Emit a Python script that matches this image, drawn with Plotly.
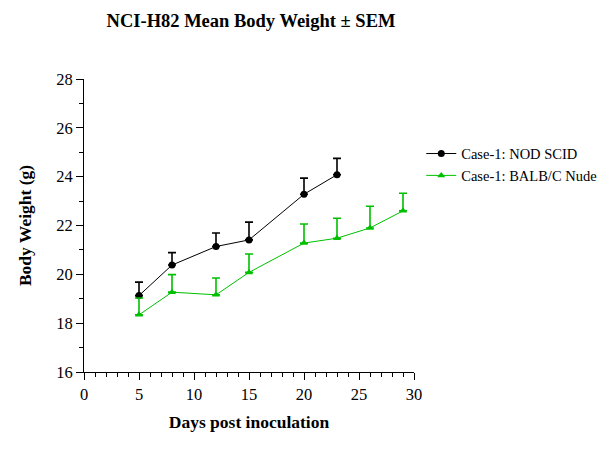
import plotly.graph_objects as go

days_nod = [5, 8, 12, 15, 20, 23]
mean_nod = [19.13, 20.38, 21.14, 21.41, 23.28, 24.08]
sem_nod = [0.55, 0.51, 0.55, 0.73, 0.66, 0.67]

days_nude = [5, 8, 12, 15, 20, 23, 26, 29]
mean_nude = [18.34, 19.27, 19.16, 20.08, 21.28, 21.48, 21.90, 22.60]
sem_nude = [0.69, 0.72, 0.69, 0.75, 0.78, 0.82, 0.89, 0.72]

series_names = ["Case-1: NOD SCID", "Case-1: BALB/C Nude"]
GREEN = "#00C000"
FONT = "Liberation Serif"

fig = go.Figure()
fig.add_trace(go.Scatter(
    x=days_nod, y=mean_nod, name=series_names[0], mode="lines+markers",
    line=dict(color="black", width=1),
    marker=dict(symbol="circle", size=7, color="black"),
    error_y=dict(type="data", symmetric=False, array=sem_nod,
                 arrayminus=[0] * len(sem_nod), color="black", thickness=1.6, width=4),
))
fig.add_trace(go.Scatter(
    x=days_nude, y=mean_nude, name=series_names[1], mode="lines+markers",
    line=dict(color=GREEN, width=1),
    marker=dict(symbol="triangle-up", size=7, color=GREEN),
    error_y=dict(type="data", symmetric=False, array=sem_nude,
                 arrayminus=[0] * len(sem_nude), color=GREEN, thickness=1.6, width=4),
))

fig.update_layout(
    width=611, height=464,
    margin=dict(l=84, r=197, t=79, b=92, autoexpand=False),
    paper_bgcolor="white", plot_bgcolor="white",
    font=dict(family=FONT, color="black", size=15),
    title=dict(text="<b>NCI-H82 Mean Body Weight ± SEM</b>", x=251 / 611, xanchor="center",
               y=1 - 21 / 464, yanchor="middle", font=dict(size=18.5, family=FONT)),
    showlegend=True,
    legend=dict(x=1.022, y=0.80, xanchor="left", yanchor="top",
                font=dict(size=14.5, family=FONT), bgcolor="rgba(0,0,0,0)",
                itemwidth=30),
)
fig.update_xaxes(
    range=[0, 30], tickmode="array", tickvals=[0, 5, 10, 15, 20, 25, 30],
    showline=True, linecolor="black", linewidth=1, mirror=False, automargin=False,
    ticks="outside", ticklen=7, tickwidth=1, tickcolor="black",
    minor=dict(ticks="outside", ticklen=4, dtick=1, tickcolor="black", showgrid=False),
    showgrid=False, zeroline=False,
    title=dict(text="<b>Days post inoculation</b>", font=dict(size=17.5, family=FONT), standoff=12),
    tickfont=dict(size=16.5, family=FONT),
)
fig.update_yaxes(
    range=[16, 28], tickmode="array", tickvals=[16, 18, 20, 22, 24, 26, 28],
    showline=True, linecolor="black", linewidth=1, automargin=False,
    ticks="outside", ticklen=7, tickwidth=1, tickcolor="black",
    minor=dict(ticks="outside", ticklen=4, dtick=1, tickcolor="black", showgrid=False),
    showgrid=False, zeroline=False,
    title=dict(text="<b>Body Weight (g)</b>", font=dict(size=17.5, family=FONT), standoff=20),
    tickfont=dict(size=16.5, family=FONT),
)

fig.write_html("out.html")
